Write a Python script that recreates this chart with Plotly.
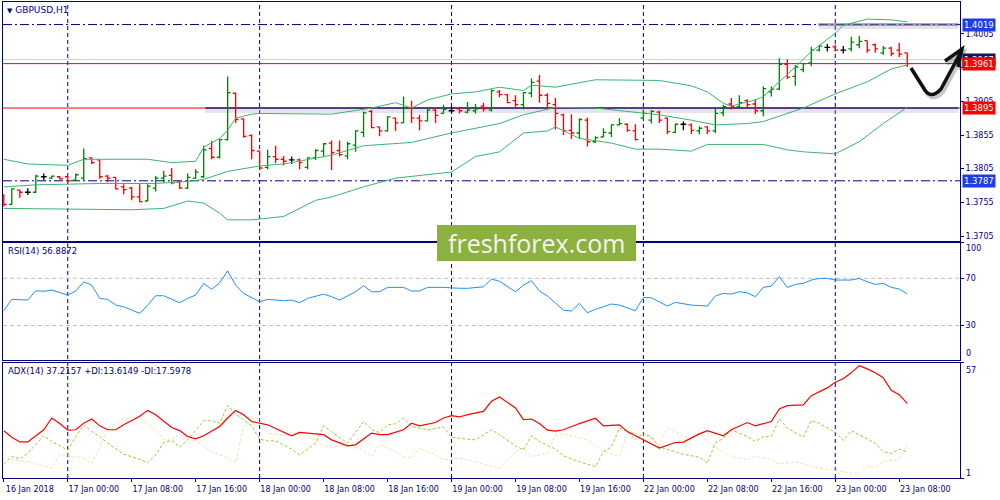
import plotly.graph_objects as go
from plotly.subplots import make_subplots

NAVY = "#000080"
FONT = "DejaVu Sans"

# GBPUSD H1 bars, 16 Jan 16:00 .. 23 Jan 09:00 (bar 0 = 17 Jan 00:00)
bar_open = [1.3764, 1.3752, 1.3773, 1.3770, 1.3770, 1.3793, 1.3791, 1.3793, 1.3793, 1.3788,
            1.3791, 1.3821, 1.3818, 1.3794, 1.3792, 1.3778, 1.3776, 1.3763, 1.3757, 1.3776,
            1.3791, 1.3795, 1.3785, 1.3776, 1.3791, 1.3793, 1.3835, 1.3822, 1.3848, 1.3917,
            1.3879, 1.3854, 1.3831, 1.3807, 1.3823, 1.3819, 1.3818, 1.3818, 1.3807, 1.3821,
            1.3831, 1.3843, 1.3832, 1.3824, 1.3840, 1.3859, 1.3890, 1.3867, 1.3861, 1.3880,
            1.3873, 1.3895, 1.3880, 1.3876, 1.3892, 1.3887, 1.3891, 1.3894, 1.3889, 1.3891,
            1.3898, 1.3892, 1.3919, 1.3915, 1.3906, 1.3900, 1.3917, 1.3935, 1.3914, 1.3900,
            1.3885, 1.3862, 1.3858, 1.3877, 1.3845, 1.3852, 1.3858, 1.3870, 1.3871, 1.3861,
            1.3880, 1.3877, 1.3889, 1.3880, 1.3859, 1.3871, 1.3870, 1.3861, 1.3867, 1.3861,
            1.3888, 1.3901, 1.3897, 1.3906, 1.3901, 1.3891, 1.3919, 1.3923, 1.3960, 1.3942,
            1.3952, 1.3962, 1.3981, 1.3985, 1.3986, 1.3981, 1.3983, 1.3989, 1.3995, 1.3989,
            1.3977, 1.3984, 1.3981, 1.3977]
bar_high = [1.3767, 1.3776, 1.3774, 1.3776, 1.3796, 1.3798, 1.3795, 1.3794, 1.3794, 1.3798,
            1.3835, 1.3822, 1.3818, 1.3796, 1.3792, 1.3782, 1.3778, 1.3782, 1.3782, 1.3794,
            1.3802, 1.3806, 1.3787, 1.3798, 1.3804, 1.3839, 1.3846, 1.3849, 1.3942, 1.3918,
            1.3880, 1.3856, 1.3832, 1.3833, 1.3839, 1.3824, 1.3823, 1.3820, 1.3822, 1.3834,
            1.3843, 1.3847, 1.3847, 1.3845, 1.3862, 1.3890, 1.3892, 1.3867, 1.3883, 1.3881,
            1.3912, 1.3906, 1.3885, 1.3895, 1.3895, 1.3900, 1.3897, 1.3897, 1.3904, 1.3901,
            1.3903, 1.3923, 1.3922, 1.3916, 1.3914, 1.3919, 1.3939, 1.3944, 1.3917, 1.3910,
            1.3887, 1.3886, 1.3880, 1.3881, 1.3853, 1.3865, 1.3871, 1.3880, 1.3872, 1.3871,
            1.3893, 1.3892, 1.3891, 1.3881, 1.3872, 1.3875, 1.3872, 1.3868, 1.3868, 1.3895,
            1.3900, 1.3910, 1.3914, 1.3908, 1.3908, 1.3927, 1.3927, 1.3969, 1.3967, 1.3959,
            1.3962, 1.3986, 1.3989, 1.3990, 1.3989, 1.3987, 1.4001, 1.4002, 1.3995, 1.3991,
            1.3987, 1.3986, 1.3992, 1.3977]
bar_low = [1.3749, 1.3751, 1.3762, 1.3766, 1.3769, 1.3788, 1.3790, 1.3789, 1.3784, 1.3787,
           1.3787, 1.3812, 1.3790, 1.3785, 1.3774, 1.3767, 1.3758, 1.3755, 1.3757, 1.3771,
           1.3784, 1.3782, 1.3775, 1.3775, 1.3790, 1.3791, 1.3819, 1.3820, 1.3847, 1.3873,
           1.3851, 1.3819, 1.3805, 1.3804, 1.3813, 1.3810, 1.3812, 1.3804, 1.3804, 1.3818,
           1.3823, 1.3803, 1.3823, 1.3819, 1.3830, 1.3852, 1.3865, 1.3853, 1.3860, 1.3861,
           1.3873, 1.3873, 1.3862, 1.3875, 1.3873, 1.3887, 1.3887, 1.3887, 1.3887, 1.3887,
           1.3890, 1.3890, 1.3911, 1.3902, 1.3897, 1.3893, 1.3911, 1.3903, 1.3896, 1.3863,
           1.3855, 1.3849, 1.3849, 1.3838, 1.3843, 1.3852, 1.3852, 1.3869, 1.3860, 1.3847,
           1.3878, 1.3872, 1.3873, 1.3856, 1.3858, 1.3862, 1.3856, 1.3856, 1.3856, 1.3858,
           1.3883, 1.3893, 1.3895, 1.3895, 1.3886, 1.3883, 1.3912, 1.3922, 1.3938, 1.3928,
           1.3948, 1.3957, 1.3979, 1.3979, 1.3979, 1.3976, 1.3979, 1.3984, 1.3977, 1.3977,
           1.3974, 1.3972, 1.3971, 1.3956]
bar_close = [1.3752, 1.3775, 1.3770, 1.3770, 1.3794, 1.3793, 1.3794, 1.3790, 1.3787, 1.3796,
             1.3820, 1.3814, 1.3793, 1.3791, 1.3775, 1.3774, 1.3763, 1.3756, 1.3779, 1.3791,
             1.3794, 1.3784, 1.3776, 1.3792, 1.3800, 1.3833, 1.3822, 1.3848, 1.3918, 1.3878,
             1.3853, 1.3832, 1.3806, 1.3823, 1.3819, 1.3816, 1.3818, 1.3814, 1.3821, 1.3832,
             1.3842, 1.3829, 1.3826, 1.3842, 1.3861, 1.3888, 1.3866, 1.3861, 1.3882, 1.3873,
             1.3895, 1.3880, 1.3876, 1.3892, 1.3884, 1.3893, 1.3891, 1.3891, 1.3892, 1.3894,
             1.3894, 1.3921, 1.3915, 1.3903, 1.3900, 1.3918, 1.3933, 1.3914, 1.3902, 1.3887,
             1.3861, 1.3858, 1.3878, 1.3845, 1.3851, 1.3859, 1.3870, 1.3872, 1.3862, 1.3848,
             1.3887, 1.3890, 1.3877, 1.3860, 1.3871, 1.3871, 1.3862, 1.3865, 1.3861, 1.3887,
             1.3897, 1.3897, 1.3903, 1.3900, 1.3891, 1.3924, 1.3923, 1.3960, 1.3941, 1.3956,
             1.3961, 1.3981, 1.3987, 1.3985, 1.3981, 1.3981, 1.3993, 1.3994, 1.3981, 1.3983,
             1.3984, 1.3976, 1.3975, 1.3961]
bar_num = list(range(-8, -8 + len(bar_open)))

# Bollinger bands (20, 2)
upper_idx = [-8, -5, 0, 2, 10, 13, 16, 17, 19, 20, 21, 23, 24, 33, 38, 41, 43, 45, 48, 51,
             54, 57, 58, 61, 66, 74, 78, 80, 82, 83, 86, 87, 91, 93, 96, 97, 100, 103, 105]
upper_val = [1.3819, 1.3812, 1.3810, 1.3819, 1.3819, 1.3814, 1.3816, 1.3837, 1.3850, 1.3862,
             1.3880, 1.3886, 1.3887, 1.3886, 1.3895, 1.3903, 1.3895, 1.3907, 1.3916, 1.3919,
             1.3926, 1.3921, 1.3929, 1.3926, 1.3937, 1.3936, 1.3928, 1.3919, 1.3902, 1.3898,
             1.3907, 1.3912, 1.3956, 1.3979, 1.4006, 1.4018, 1.4027, 1.4026, 1.4023]
middle_idx = [-8, -4, 4, 11, 15, 17, 20, 24, 27, 33, 37, 43, 48, 54, 57, 61, 66, 72, 74, 78,
              81, 85, 87, 92, 96, 100, 103, 105]
middle_val = [1.3778, 1.3781, 1.3783, 1.3783, 1.3786, 1.3789, 1.3801, 1.3809, 1.3812, 1.3825,
              1.3839, 1.3844, 1.3858, 1.3872, 1.3885, 1.3896, 1.3895, 1.3887, 1.3885, 1.3877,
              1.3870, 1.3872, 1.3875, 1.3895, 1.3916, 1.3934, 1.3953, 1.3959]
lower_idx = [-8, 0, 8, 12, 15, 17, 19, 20, 23, 27, 31, 33, 37, 41, 48, 51, 54, 57, 60, 61,
             64, 68, 71, 74, 78, 80, 87, 90, 92, 96, 99, 102, 105]
lower_val = [1.3746, 1.3745, 1.3744, 1.3746, 1.3757, 1.3754, 1.3739, 1.3729, 1.3729, 1.3734,
             1.3758, 1.3763, 1.3778, 1.3791, 1.3800, 1.3823, 1.3830, 1.3858, 1.3861, 1.3867,
             1.3850, 1.3843, 1.3834, 1.3834, 1.3831, 1.3841, 1.3841, 1.3833, 1.3830, 1.3827,
             1.3845, 1.3872, 1.3896]

# RSI(14)
rsi_idx = [-8, -7, -5, -4, -3, -2, 0, 1, 2, 3, 4, 5, 6, 7, 9, 10, 11, 12, 14, 15,
           16, 17, 18, 19, 20, 21, 22, 24, 25, 27, 28, 29, 30, 32, 33, 34, 36, 37, 38, 39,
           40, 41, 42, 43, 44, 45, 47, 49, 50, 52, 53, 54, 56, 57, 58, 59, 60, 62, 63, 64,
           65, 66, 68, 69, 71, 72, 73, 75, 76, 78, 80, 81, 82, 83, 84, 85, 86, 87, 88, 89,
           90, 91, 92, 93, 94, 95, 96, 98, 99, 100, 101, 102, 103, 104, 105]
rsi_val = [42.5, 52.1, 51.6, 59.4, 59.0, 60.0, 55.8, 59.2, 67.0, 64.2, 53.0, 52.1, 47.3, 45.9, 40.3,
           47.3, 55.2, 55.2, 49.3, 53.0, 55.8, 65.7, 60.6, 66.2, 76.3, 64.2, 57.2, 50.1, 52.1, 51.0,
           51.6, 49.3, 53.0, 56.6, 54.4, 51.6, 58.6, 63.7, 58.6, 58.6, 62.3, 62.3, 62.3, 59.2, 59.2,
           62.3, 62.3, 61.5, 61.5, 62.8, 69.3, 67.5, 58.6, 64.2, 67.9, 59.2, 55.0, 43.1, 42.3, 48.8,
           40.8, 43.7, 48.2, 47.3, 42.5, 53.8, 53.5, 46.5, 49.6, 47.3, 46.5, 55.0, 57.2, 56.6, 58.6,
           57.7, 54.4, 62.3, 63.4, 71.3, 62.3, 64.8, 65.7, 68.5, 69.9, 69.9, 68.5, 68.5, 69.9, 67.0,
           64.8, 65.7, 62.3, 60.9, 56.9]
rsi_levels = [30, 70]

# ADX(14), +DI, -DI
adx_idx = [-8, -7, -6, -5, -3, -2, -1, 0, 1, 2, 3, 4, 5, 6, 7, 9, 10, 11, 13, 14,
           15, 16, 17, 19, 20, 21, 22, 23, 25, 27, 28, 29, 30, 32, 33, 35, 36, 37, 38, 39,
           40, 42, 43, 44, 46, 47, 48, 49, 50, 52, 53, 54, 56, 57, 58, 59, 60, 61, 62, 64,
           66, 67, 69, 70, 72, 74, 76, 77, 79, 80, 82, 83, 85, 86, 88, 89, 90, 92, 93, 95,
           96, 97, 98, 99, 100, 101, 102, 103, 104, 105]
adx_val = [23.9, 20.8, 18.5, 18.5, 24.4, 30.1, 27.4, 24.2, 24.4, 27.6, 29.6, 26.3, 24.4, 24.4, 26.8,
           30.9, 33.8, 31.7, 25.5, 24.0, 21.1, 20.0, 21.5, 26.0, 30.1, 33.8, 31.7, 28.4, 26.8, 23.5,
           21.5, 23.1, 22.8, 22.0, 19.5, 16.6, 17.1, 19.8, 22.8, 22.0, 22.0, 24.4, 27.6, 26.3, 27.9,
           30.1, 31.2, 30.6, 31.7, 33.3, 38.2, 40.3, 35.0, 29.3, 29.6, 27.4, 24.2, 23.7, 24.4, 27.4,
           30.0, 26.3, 26.8, 23.5, 19.5, 15.5, 18.2, 18.4, 22.4, 24.0, 21.5, 24.4, 27.9, 26.3, 28.4,
           34.5, 36.1, 36.5, 40.9, 44.7, 47.4, 49.1, 52.0, 55.5, 53.9, 52.0, 49.6, 43.5, 41.4, 37.2]
pdi_idx = [-8, -7, -6, -5, -3, -2, -1, 0, 1, 2, 3, 4, 5, 7, 9, 10, 11, 12, 13, 14,
           15, 17, 18, 19, 20, 21, 23, 24, 25, 26, 28, 29, 31, 32, 33, 35, 37, 38, 39, 40,
           41, 42, 43, 45, 47, 48, 50, 51, 53, 54, 56, 57, 58, 59, 61, 62, 64, 66, 67, 68,
           69, 70, 71, 72, 73, 74, 76, 77, 79, 80, 81, 82, 83, 85, 86, 87, 88, 89, 90, 92,
           93, 94, 96, 97, 98, 99, 101, 102, 103, 104, 105]
pdi_val = [7.8, 11.4, 10.3, 13.0, 21.5, 18.7, 16.6, 14.6, 21.1, 26.8, 23.5, 21.1, 17.9, 12.5, 10.1,
           8.4, 12.2, 18.2, 19.2, 16.0, 19.5, 28.8, 28.8, 27.6, 36.1, 32.0, 26.3, 19.8, 19.0, 19.0,
           15.0, 12.2, 17.9, 26.3, 23.5, 17.9, 28.4, 24.4, 23.1, 26.8, 27.3, 30.1, 26.0, 24.4, 25.7,
           20.8, 19.8, 19.5, 24.4, 22.0, 16.6, 14.6, 21.5, 18.7, 15.0, 11.7, 8.9, 6.5, 13.8, 16.0,
           25.2, 23.5, 19.5, 22.8, 20.8, 16.0, 13.8, 12.5, 11.1, 8.2, 17.9, 20.3, 24.4, 21.1, 18.7,
           21.1, 21.1, 29.6, 25.2, 20.8, 28.9, 27.6, 23.1, 19.2, 24.0, 22.0, 17.9, 13.8, 12.9, 15.0,
           13.6]
mdi_idx = [-8, -7, -5, -4, -3, -2, -1, 0, 2, 3, 4, 5, 7, 8, 9, 11, 12, 13, 14, 16,
           17, 18, 20, 21, 22, 24, 25, 27, 28, 29, 31, 32, 33, 35, 37, 38, 39, 41, 42, 43,
           44, 46, 47, 49, 51, 52, 54, 56, 57, 58, 60, 61, 62, 64, 65, 67, 69, 70, 72, 73,
           74, 75, 76, 78, 79, 80, 82, 83, 85, 86, 88, 89, 91, 93, 94, 96, 98, 99, 100, 101,
           102, 104, 105]
mdi_val = [13.3, 9.8, 9.0, 7.8, 6.8, 5.7, 12.2, 12.2, 10.6, 8.2, 16.0, 25.2, 29.6, 30.6, 29.6,
           24.4, 19.5, 19.5, 22.4, 19.2, 16.6, 13.8, 10.6, 8.4, 26.3, 29.3, 22.8, 21.5, 23.1, 22.0,
           19.5, 16.6, 16.0, 17.1, 14.6, 11.4, 17.1, 13.8, 11.4, 10.6, 15.5, 12.2, 9.8, 10.6, 8.9,
           7.8, 5.7, 13.8, 15.5, 11.4, 13.0, 22.0, 22.4, 20.3, 19.5, 13.8, 11.4, 23.5, 22.0, 20.3,
           17.1, 25.2, 23.5, 19.5, 22.8, 18.7, 13.3, 11.4, 9.8, 11.7, 9.8, 7.8, 8.9, 6.8, 5.7,
           4.6, 3.6, 2.9, 6.8, 6.2, 8.9, 10.1, 17.6]

time_ticks = [-8, 0, 8, 16, 24, 32, 40, 48, 56, 64, 72, 80, 88, 96, 104]
time_labels = ["16 Jan 2018", "17 Jan 00:00", "17 Jan 08:00", "17 Jan 16:00", "18 Jan 00:00",
               "18 Jan 08:00", "18 Jan 16:00", "19 Jan 00:00", "19 Jan 08:00", "19 Jan 16:00",
               "22 Jan 00:00", "22 Jan 08:00", "22 Jan 16:00", "23 Jan 00:00", "23 Jan 08:00"]
day_starts = [0, 24, 48, 72, 96]
price_ticks = [1.3705, 1.3755, 1.3805, 1.3855, 1.3905, 1.3955, 1.4005]

level_top = 1.4019
level_ask = 1.3967
level_bid = 1.3961
level_mid = 1.3895
level_low = 1.3787


def to_paper(X, Y):
    # screen pixel -> paper coords (plot area is x 3..960, y 2..478)
    return (X - 3) / 957.0, (478 - Y) / 476.0


fig = make_subplots(rows=3, cols=1, shared_xaxes=True, vertical_spacing=0.01)

for vals, col in [(upper_val, upper_idx), (middle_val, middle_idx), (lower_val, lower_idx)]:
    fig.add_trace(go.Scatter(x=col, y=vals, mode="lines",
                             line=dict(color="#3CB371", width=1)), row=1, col=1)

groups = {"#008000": [], "#ff0000": [], "#000000": []}
for j in range(len(bar_open)):
    if bar_close[j] > bar_open[j]:
        groups["#008000"].append(j)
    elif bar_close[j] < bar_open[j]:
        groups["#ff0000"].append(j)
    else:
        groups["#000000"].append(j)

for color, sel in groups.items():
    fig.add_trace(go.Ohlc(
        x=[bar_num[j] for j in sel],
        open=[bar_open[j] for j in sel],
        high=[bar_high[j] for j in sel],
        low=[bar_low[j] for j in sel],
        close=[bar_close[j] for j in sel],
        increasing=dict(line=dict(color=color, width=1.3)),
        decreasing=dict(line=dict(color=color, width=1.3)),
        tickwidth=0.36, hoverinfo="skip"), row=1, col=1)

fig.add_trace(go.Scatter(x=rsi_idx, y=rsi_val, mode="lines",
                         line=dict(color="#1E90FF", width=1)), row=2, col=1)

fig.add_trace(go.Scatter(x=mdi_idx, y=mdi_val, mode="lines",
                         line=dict(color="#F5DEB3", width=1, dash="3px,2px")), row=3, col=1)
fig.add_trace(go.Scatter(x=pdi_idx, y=pdi_val, mode="lines",
                         line=dict(color="#9ACD32", width=1, dash="3px,2px")), row=3, col=1)
fig.add_trace(go.Scatter(x=adx_idx, y=adx_val, mode="lines",
                         line=dict(color="#FF0000", width=1.2)), row=3, col=1)

shapes = []
# daily separators
for d in day_starts:
    shapes.append(dict(type="line", xref="x", yref="paper", x0=d, x1=d, y0=0, y1=1,
                       line=dict(color=NAVY, width=1, dash="4px,3px"), layer="below"))
# RSI levels
for lv in rsi_levels:
    shapes.append(dict(type="line", xref="x2 domain", yref="y2", x0=0, x1=1, y0=lv, y1=lv,
                       line=dict(color="#c0c0c0", width=1, dash="4px,3px"), layer="below"))
# price level lines
dashdot = "9px,3px,2px,3px"
shapes += [
    dict(type="line", xref="x domain", yref="y", x0=0, x1=1, y0=level_top, y1=level_top,
         line=dict(color=NAVY, width=1, dash=dashdot), layer="below"),
    dict(type="line", xref="x domain", yref="y", x0=0, x1=1, y0=level_low, y1=level_low,
         line=dict(color=NAVY, width=1, dash=dashdot), layer="below"),
    dict(type="line", xref="x domain", yref="y", x0=0, x1=1, y0=level_ask, y1=level_ask,
         line=dict(color="#d0d0d0", width=1), layer="below"),
    dict(type="line", xref="x domain", yref="y", x0=0, x1=1, y0=level_bid, y1=level_bid,
         line=dict(color="#ff0000", width=1), layer="below"),
    dict(type="line", xref="x domain", yref="y", x0=0, x1=1, y0=level_mid, y1=level_mid,
         line=dict(color="#ff0000", width=1), layer="below"),
    dict(type="line", xref="x", yref="y", x0=17.2, x1=111.4, y0=level_mid - 0.00035,
         y1=level_mid - 0.00035, line=dict(color="rgba(150,150,150,0.25)", width=5), layer="below"),
    dict(type="line", xref="x", yref="y", x0=17.2, x1=111.4, y0=level_mid, y1=level_mid,
         line=dict(color="#25258f", width=1.6), layer="below"),
    dict(type="line", xref="x", yref="y", x0=93.9, x1=111.4, y0=level_top - 0.0003,
         y1=level_top - 0.0003, line=dict(color="rgba(150,150,150,0.25)", width=5), layer="below"),
    dict(type="line", xref="x", yref="y", x0=93.9, x1=111.4, y0=level_top, y1=level_top,
         line=dict(color="rgba(100,100,150,0.55)", width=3), layer="below"),
]

# watermark box
wx0, wy0 = to_paper(437, 261)
wx1, wy1 = to_paper(636, 225)
shapes.append(dict(type="rect", xref="paper", yref="paper", x0=wx0, x1=wx1, y0=wy0, y1=wy1,
                   fillcolor="#8db141", line=dict(width=0), layer="above"))


def path_of(cmds):
    out = []
    for c, pts in cmds:
        coords = []
        for X, Y in pts:
            px, py = to_paper(X, Y)
            coords.append(f"{px:.5f},{py:.5f}")
        out.append(c + " " + " ".join(coords))
    return " ".join(out)


def arrow_cmds(dx, dy):
    return [("M", [(911 + dx, 68 + dy)]), ("L", [(923 + dx, 87 + dy)]),
            ("Q", [(930 + dx, 101 + dy), (941 + dx, 89 + dy)]), ("L", [(962 + dx, 50 + dy)]),
            ("M", [(945 + dx, 61 + dy)]), ("L", [(962 + dx, 49 + dy)]), ("L", [(958 + dx, 67 + dy)])]


shapes.append(dict(type="path", xref="paper", yref="paper", path=path_of(arrow_cmds(2, 3)),
                   line=dict(color="rgba(0,0,0,0.22)", width=4), layer="above"))
shapes.append(dict(type="path", xref="paper", yref="paper", path=path_of(arrow_cmds(0, 0)),
                   line=dict(color="#111111", width=3.5), layer="above"))

annotations = []


def text_at(X, Y, text, size=8.5, anchor="left", color=NAVY):
    px, py = to_paper(X, Y)
    annotations.append(dict(xref="paper", yref="paper", x=px, y=py, text=text, showarrow=False,
                            xanchor=anchor, yanchor="middle",
                            font=dict(family=FONT, size=size, color=color)))


text_at(5, 10, "<span style='font-size:7px'>▼</span> GBPUSD,H1", 9)
text_at(6, 251, "RSI(14) 56.8872")
text_at(6, 371, "ADX(14) 37.2157 +DI:13.6149 -DI:17.5978")
text_at(964, 249, "100", 8)
text_at(964, 353, "0", 8)
text_at(964, 370, "57", 8)
text_at(964, 473, "1", 8)

mx, my = to_paper(536.5, 243)
annotations.append(dict(xref="paper", yref="paper", x=mx, y=my, text="freshforex.com",
                        showarrow=False, xanchor="center", yanchor="middle",
                        font=dict(family="Open Sans", size=25, color="#f4f4f0")))

for val, bg in [(level_top, "#1f3ee0"), (level_ask, "#14145a"), (level_bid, "#ff0000"),
                (level_mid, "#ff0000"), (level_low, "#1f3ee0")]:
    annotations.append(dict(xref="paper", yref="y", x=1.0, y=val, xshift=2, text=f"{val:.4f}",
                            showarrow=False, xanchor="left", yanchor="middle", bgcolor=bg,
                            borderpad=1, font=dict(family=FONT, size=8.5, color="white")))

fig.update_layout(
    width=1000, height=500, margin=dict(l=3, r=40, t=2, b=22),
    plot_bgcolor="white", paper_bgcolor="white", showlegend=False, hovermode=False,
    font=dict(family=FONT, size=8, color=NAVY),
    shapes=shapes, annotations=annotations,
)

axis_common = dict(showline=True, linecolor=NAVY, linewidth=1, mirror=True,
                   showgrid=False, zeroline=False)
fig.update_xaxes(range=[-8.1, 111.6], rangeslider_visible=False, **axis_common)
fig.update_xaxes(showticklabels=False, ticks="", row=1, col=1)
fig.update_xaxes(showticklabels=False, ticks="", row=2, col=1)
fig.update_xaxes(tickvals=time_ticks, ticktext=time_labels, ticks="outside", ticklen=3,
                 tickcolor=NAVY, tickfont=dict(size=8, color=NAVY), ticklabelshift=26,
                 showticklabels=True, row=3, col=1)

fig.update_yaxes(side="right", ticks="outside", ticklen=3, tickcolor=NAVY,
                 tickfont=dict(size=8, color=NAVY), **axis_common)
fig.update_yaxes(range=[1.36976, 1.40525], tickvals=price_ticks, tickformat=".4f",
                 domain=[0.4979, 1.0], row=1, col=1)
fig.update_yaxes(range=[0.85, 100.25], tickvals=[0, 30, 70, 100], ticktext=["", "30", "70", ""],
                 domain=[0.2479, 0.4947], row=2, col=1)
fig.update_yaxes(range=[1, 57], tickvals=[1, 57], ticktext=["", ""],
                 domain=[0.0, 0.2426], row=3, col=1)

# page margin off so the 1000x500 figure fills the window exactly
fig.write_html("out.html", config={"displayModeBar": False},
               post_script="document.body.style.margin='0';document.body.style.overflow='hidden';")
